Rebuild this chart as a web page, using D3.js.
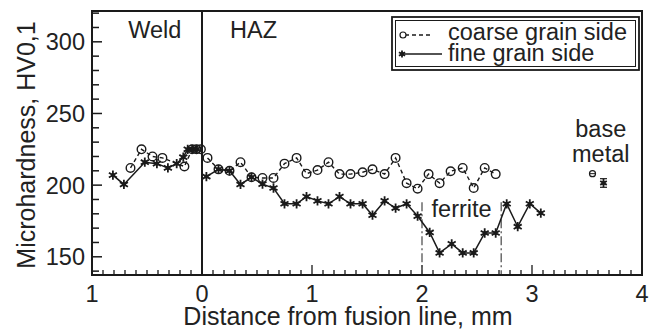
<!DOCTYPE html>
<html><head><meta charset="utf-8">
<script src="https://cdn.jsdelivr.net/npm/d3@7"></script>
<style>body{margin:0;background:#fff}svg{display:block}text{font-family:"Liberation Sans",Arial,sans-serif;fill:#222}</style>
</head><body><svg id="c" width="651" height="329"></svg>
<script>
// x: distance from fusion line (negative = weld side), y: microhardness HV0,1
const coarseX = [-0.65,-0.55,-0.45,-0.36,-0.16,-0.09,-0.05,-0.01,null,0.05,0.15,0.25,0.35,0.45,0.55,0.65,0.75,0.86,0.95,1.05,1.15,1.25,1.35,1.46,1.55,1.66,1.76,1.86,1.96,2.06,2.16,2.26,2.37,2.47,2.57,2.67];
const coarseY = [212,225,220,219,213,225,225,225,null,219,211,210,216,205.5,205,205,215,219,208,210.5,216,207.7,207.7,209,211,207.7,219,201.4,197.5,207.7,201.4,209.7,212,198,212,207.7];
const fineX = [-0.81,-0.71,-0.52,-0.41,-0.31,-0.23,-0.17,-0.13,-0.09,-0.05,null,0.04,0.15,0.25,0.35,0.45,0.55,0.65,0.75,0.86,0.95,1.05,1.15,1.25,1.35,1.46,1.55,1.66,1.76,1.86,1.96,2.07,2.16,2.27,2.37,2.47,2.57,2.67,2.77,2.87,2.98,3.08];
const fineY = [207,200.5,216,215,212,215,219.5,225,225,225,null,206,211,210,200.5,205.5,200.7,198,187,187,192,189,187,192,187,187,179,189,184,187,178.4,167,152.7,159,152.7,152.7,166.6,166.6,187,171,187,180.5];
const baseCoarse = [3.55, 208];
const baseFine = [3.65, 201.5, 3];
const ferriteBounds = [2.0, 2.72];
const xTickValues = [-1,0,1,2,3,4];
const xTickLabels = ["1","0","1","2","3","4"];
const yTickValues = [150,200,250,300];

const svg = d3.select("#c");
const L=92,R=642,T=11,B=275;
const x = d3.scaleLinear().domain([-1,4]).range([L,R]);
const y = d3.scaleLinear().domain([137.3,321.5]).range([B,T]);
const ink="#1a1a1a";
const FS="23.5px";
const FT="25px";

// minor/major ticks (inward)
const xMinor = d3.range(-10,41).map(d=>d/10);
svg.append("g").selectAll("line").data(xMinor).join("line")
  .attr("x1",d=>x(d)).attr("x2",d=>x(d)).attr("y1",B)
  .attr("y2",d=>Math.abs(d-Math.round(d))<1e-6?B-10:B-5)
  .attr("stroke",ink).attr("stroke-width",1.3);
const yMinor = d3.range(140,321,10);
svg.append("g").selectAll("line").data(yMinor).join("line")
  .attr("y1",d=>y(d)).attr("y2",d=>y(d)).attr("x1",L)
  .attr("x2",d=>d%50===0?L+10:L+7)
  .attr("stroke",ink).attr("stroke-width",1.5);

// tick labels
svg.append("g").selectAll("text").data(xTickValues).join("text")
  .attr("x",d=>x(d)).attr("y",302).attr("text-anchor","middle").style("font-size",FS)
  .text((d,i)=>xTickLabels[i]);
svg.append("g").selectAll("text").data(yTickValues).join("text")
  .attr("x",85).attr("y",d=>y(d)+8.5).attr("text-anchor","end").style("font-size",FS)
  .text(d=>d);

// axis titles
svg.append("text").attr("x",348).attr("y",325).attr("text-anchor","middle").style("font-size",FT)
  .text("Distance from fusion line, mm");
svg.append("text").attr("transform","translate(35,"+((T+B)/2+2)+") rotate(-90)").attr("text-anchor","middle").style("font-size",FT)
  .text("Microhardness, HV0,1");

// fusion line
svg.append("line").attr("x1",x(0)).attr("x2",x(0)).attr("y1",T).attr("y2",B).attr("stroke",ink).attr("stroke-width",2);
// ferrite bounds
svg.append("g").selectAll("line").data(ferriteBounds).join("line")
  .attr("x1",d=>x(d)).attr("x2",d=>x(d)).attr("y1",y(188)).attr("y2",B)
  .attr("stroke","#555").attr("stroke-width",1.3).attr("stroke-dasharray","9,3,2,3");

// frame
svg.append("rect").attr("x",L).attr("y",T).attr("width",R-L).attr("height",B-T)
  .attr("fill","none").attr("stroke",ink).attr("stroke-width",2);

// texts
svg.append("text").attr("x",x(-0.43)).attr("y",38).attr("text-anchor","middle").style("font-size",FS).text("Weld");
svg.append("text").attr("x",x(0.255)).attr("y",38).attr("text-anchor","start").style("font-size",FS).text("HAZ");
svg.append("text").attr("x",x(2.36)).attr("y",217).attr("text-anchor","middle").style("font-size",FS).text("ferrite");
svg.append("text").attr("x",x(3.625)).attr("y",137).attr("text-anchor","middle").style("font-size",FS).text("base");
svg.append("text").attr("x",x(3.625)).attr("y",162).attr("text-anchor","middle").style("font-size",FS).text("metal");

const coarse = coarseX.map((d,i)=>[d,coarseY[i]]);
const fine = fineX.map((d,i)=>[d,fineY[i]]);
const line = d3.line().defined(d=>d[0]!==null).x(d=>x(d[0])).y(d=>y(d[1]));

svg.append("path").attr("d",line(fine)).attr("fill","none").attr("stroke",ink).attr("stroke-width",1.5);
svg.append("path").attr("d",line(coarse)).attr("fill","none").attr("stroke",ink).attr("stroke-width",1.4).attr("stroke-dasharray","4,3");

function drawStar(g,cx,cy,s){
  g.append("path").attr("transform",`translate(${cx},${cy})`).attr("d",d3.symbol().type(d3.symbolAsterisk).size(s)())
    .attr("fill","none").attr("stroke",ink).attr("stroke-width",1.8);
  g.append("circle").attr("cx",cx).attr("cy",cy).attr("r",2).attr("fill",ink);
}
const gp = svg.append("g");
fine.filter(d=>d[0]!==null).forEach(d=>drawStar(gp,x(d[0]),y(d[1]),60));
gp.selectAll("circle.c").data(coarse.filter(d=>d[0]!==null)).join("circle").attr("class","c")
  .attr("cx",d=>x(d[0])).attr("cy",d=>y(d[1])).attr("r",4.3).attr("fill","none").attr("stroke",ink).attr("stroke-width",1.4);

// base metal
gp.append("circle").attr("cx",x(baseCoarse[0])).attr("cy",y(baseCoarse[1])).attr("r",3).attr("fill","none").attr("stroke",ink).attr("stroke-width",1.2);
gp.append("line").attr("x1",x(baseCoarse[0])-2.5).attr("x2",x(baseCoarse[0])+2.5).attr("y1",y(baseCoarse[1])).attr("y2",y(baseCoarse[1])).attr("stroke",ink);
const bx=x(baseFine[0]);
[[baseFine[1]-baseFine[2],baseFine[1]+baseFine[2]]].forEach(([lo,hi])=>{
  gp.append("line").attr("x1",bx).attr("x2",bx).attr("y1",y(lo)).attr("y2",y(hi)).attr("stroke",ink).attr("stroke-width",1.2);
  gp.append("line").attr("x1",bx-3.5).attr("x2",bx+3.5).attr("y1",y(lo)).attr("y2",y(lo)).attr("stroke",ink).attr("stroke-width",1.2);
  gp.append("line").attr("x1",bx-3.5).attr("x2",bx+3.5).attr("y1",y(hi)).attr("y2",y(hi)).attr("stroke",ink).attr("stroke-width",1.2);
});
drawStar(gp,bx,y(baseFine[1]),40);

// legend
const lg = svg.append("g");
lg.append("rect").attr("x",392).attr("y",17).attr("width",247).attr("height",53).attr("fill","#fff").attr("stroke",ink).attr("stroke-width",1.8);
lg.append("rect").attr("x",395.5).attr("y",20.5).attr("width",240).attr("height",46).attr("fill","none").attr("stroke",ink).attr("stroke-width",1);
lg.append("line").attr("x1",405).attr("x2",432).attr("y1",35).attr("y2",35).attr("stroke",ink).attr("stroke-width",1.4).attr("stroke-dasharray","4,3");
lg.append("circle").attr("cx",403).attr("cy",35).attr("r",3).attr("fill","#fff").attr("stroke",ink).attr("stroke-width",1.2);
lg.append("line").attr("x1",402).attr("x2",442).attr("y1",54).attr("y2",54).attr("stroke",ink).attr("stroke-width",1.5);
drawStar(lg,402,54,35);
lg.append("text").attr("x",448).attr("y",40).style("font-size",FS).text("coarse grain side");
lg.append("text").attr("x",448).attr("y",61).style("font-size",FS).text("fine grain side");
</script></body></html>
